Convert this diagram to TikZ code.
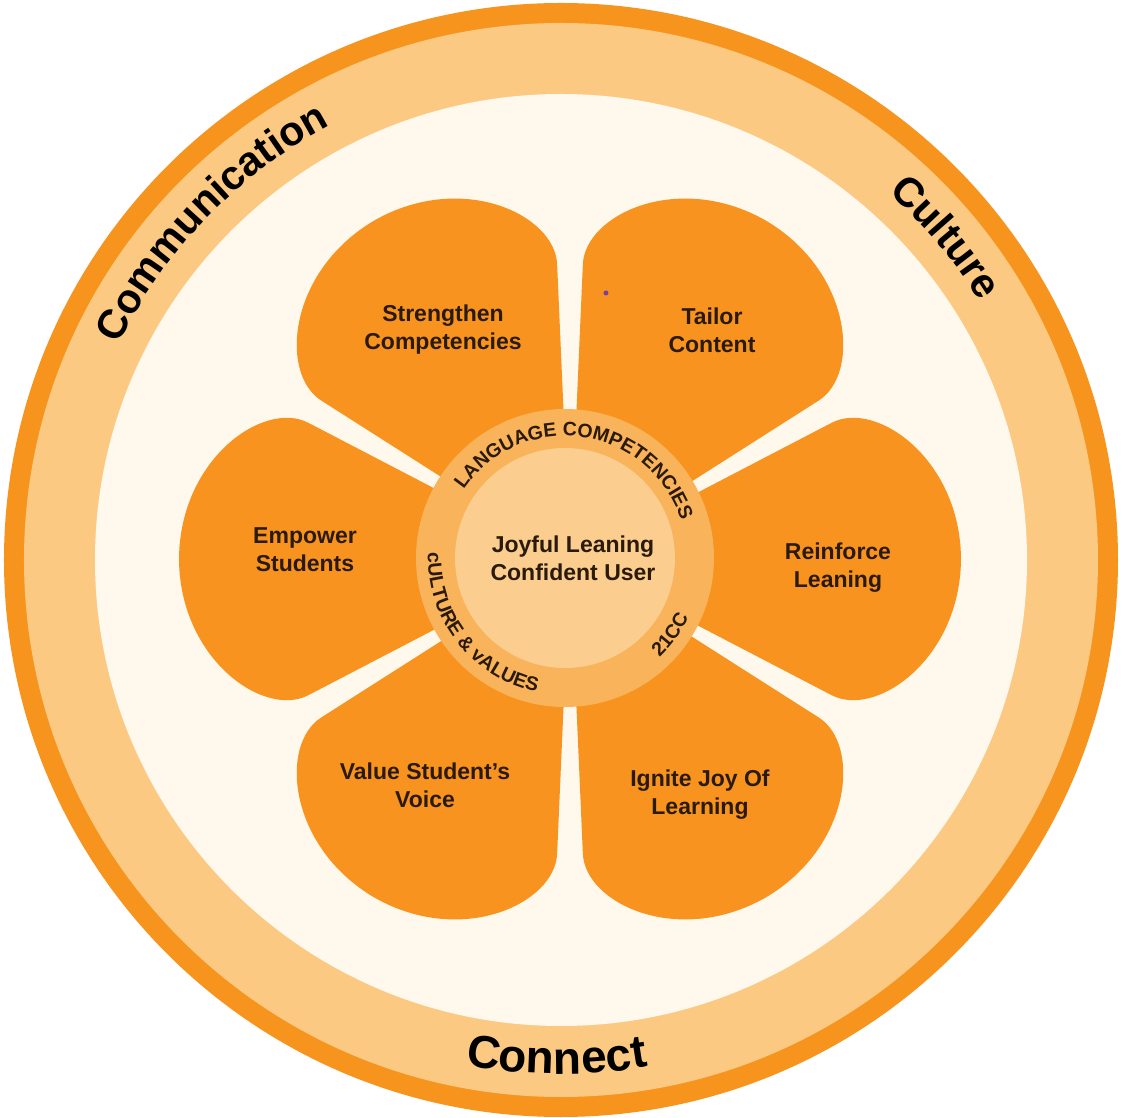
\documentclass[tikz,border=0pt]{standalone}
\usepackage{fontspec}
\setmainfont{Liberation Sans}
\usepackage{xcolor}
\usetikzlibrary{decorations.text}

\definecolor{ringorange}{HTML}{F7941D}
\definecolor{bandorange}{HTML}{FCC983}
\definecolor{creambg}{HTML}{FFF8EC}
\definecolor{petalorange}{HTML}{F7931E}
\definecolor{hubring}{HTML}{F9B35A}
\definecolor{hubcore}{HTML}{FBCD8E}
\definecolor{inkdark}{HTML}{2A1A0A}
\definecolor{speck}{HTML}{7B3FA0}
\newcommand{\bandfont}{\fontsize{41}{41}\selectfont\bfseries}
\newcommand{\bottomfont}{\fontsize{46}{46}\selectfont\bfseries}
\newcommand{\hubfont}{\fontsize{19.5}{19.5}\selectfont\bfseries}

\begin{document}
\begin{tikzpicture}[x=1pt, y=1pt,
    petaltext/.style={align=center, text=inkdark, font=\fontsize{23}{28}\selectfont\bfseries}]
            \useasboundingbox (-561,-558) rectangle (561,560);
            \fill[white] (-561,-558) rectangle (561,560);

            %Rings
            \fill[ringorange] (0,0) circle (557);
            \fill[bandorange] (0,0) circle (537);
            \fill[creambg] (0,0) circle (466);

            %Petals
            \begin{scope}[shift={(9,1)}]
                \foreach \a in {0,60,...,300}
                    \fill[petalorange, rotate=\a] (0,0) -- (27.5:295)
                        .. controls (27.5:345) and (14.4:403) .. (0:391)
                        .. controls (-14.4:403) and (-27.5:345) .. (-27.5:295) -- cycle;
            \end{scope}
            \fill[speck] (45,267) circle (2.5);

            %Hub
            \begin{scope}[shift={(4,2)}]
                \fill[hubring] (0,0) circle (149);
                \fill[hubcore] (0,0) circle (110);
                \path[decorate, decoration={text along path, text align=center, text color=inkdark,
                    text={|\hubfont|LANGUAGE COMPETENCIES}}]
                    (0,0) ++(172:122) arc[start angle=172, end angle=-8, radius=122];
                \path[decorate, decoration={text along path, text align=center, text color=inkdark,
                    text={|\hubfont|cULTURE {\&} vALUES}}]
                    (0,0) ++(138:137) arc[start angle=138, end angle=298, radius=137];
                \path[decorate, decoration={text along path, text align=center, text color=inkdark,
                    text={|\hubfont|21CC}}]
                    (0,0) ++(-56:137) arc[start angle=-56, end angle=-16, radius=137];
            \end{scope}

            %Band labels
            \path[decorate, decoration={text along path, text align=center, text color=black,
                text={|\bandfont|Communication}}]
                (0,0) ++(176:492) arc[start angle=176, end angle=96, radius=492];
            \path[decorate, decoration={text along path, text align=center, text color=black,
                text={|\bandfont|Culture}}]
                (0,0) ++(70:492) arc[start angle=70, end angle=10, radius=492];
            \path[decorate, decoration={text along path, text align=center, text color=black,
                text={|\bottomfont|Connect}}]
                (0,0) ++(-126:514) arc[start angle=-126, end angle=-55, radius=514];

            %Nodes
            \node[petaltext] at (12,2) (hub) {Joyful Leaning\\Confident User};
            \node[petaltext] at (-118,230) (strengthen) {Strengthen\\Competencies};
            \node[petaltext] at (151,230) (tailor) {Tailor\\Content};
            \node[petaltext] at (277,-8) (reinforce) {Reinforce\\Leaning};
            \node[petaltext] at (139,-235) (ignite) {Ignite Joy Of\\Learning};
            \node[petaltext] at (-136,-225) (voice) {Value Student's\\Voice};
            \node[petaltext] at (-256,10) (empower) {Empower\\Students};
        \end{tikzpicture}
\end{document}
